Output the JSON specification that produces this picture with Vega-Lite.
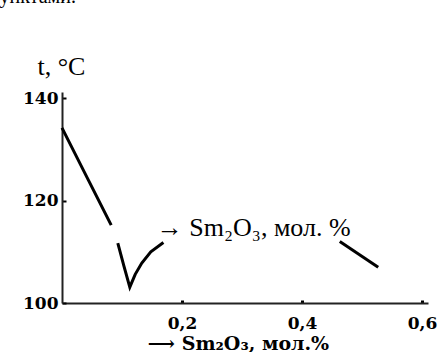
{
  "$schema": "https://vega.github.io/schema/vega-lite/v6.json",
  "width": 366,
  "height": 211,
  "autosize": "none",
  "padding": {"left": 62, "top": 92, "right": 10, "bottom": 49},
  "background": "white",
  "title": {
    "text": "ми пунктами.",
    "anchor": "start",
    "orient": "top",
    "offset": 30,
    "dx": -62,
    "font": "Liberation Serif",
    "fontSize": 20,
    "fontWeight": "normal",
    "color": "#000",
    "baseline": "alphabetic"
  },
  "config": {
    "view": {"stroke": null},
    "axis": {"grid": false}
  },
  "layer": [
    {
      "data": {
        "values": [
          {"x": 0.0, "t": 134.2, "seg": 1},
          {"x": 0.044, "t": 124.0, "seg": 1},
          {"x": 0.082, "t": 115.2, "seg": 1},
          {"x": 0.093, "t": 111.7, "seg": 2},
          {"x": 0.103, "t": 107.3, "seg": 2},
          {"x": 0.113, "t": 103.1, "seg": 2},
          {"x": 0.122, "t": 105.6, "seg": 2},
          {"x": 0.133, "t": 107.8, "seg": 2},
          {"x": 0.148, "t": 110.0, "seg": 2},
          {"x": 0.169, "t": 111.8, "seg": 2},
          {"x": 0.463, "t": 112.0, "seg": 3},
          {"x": 0.527, "t": 107.0, "seg": 3}
        ]
      },
      "mark": {"type": "line", "color": "black", "strokeWidth": 3},
      "encoding": {
        "x": {
          "field": "x",
          "type": "quantitative",
          "scale": {"domain": [0, 0.61], "nice": false, "zero": false},
          "axis": {
            "values": [0.2, 0.4, 0.6],
            "labelExpr": "replace(format(datum.value, '.1f'), '.', ',')",
            "labelFont": "DejaVu Serif",
            "labelFontWeight": "bold",
            "labelFontSize": 17,
            "labelColor": "#000",
            "labelPadding": 15,
            "tickSize": -3,
            "tickWidth": 3,
            "tickColor": "#000",
            "domainColor": "#222",
            "domainWidth": 2,
            "title": "⟶ Sm₂O₃, мол.%",
            "titleFont": "DejaVu Serif",
            "titleFontWeight": "bold",
            "titleFontSize": 19,
            "titleColor": "#000",
            "titleAlign": "center",
            "titleBaseline": "alphabetic",
            "titleX": 176,
            "titleY": 46
          }
        },
        "y": {
          "field": "t",
          "type": "quantitative",
          "scale": {"domain": [100, 141.2], "nice": false, "zero": false},
          "axis": {
            "values": [100, 120, 140],
            "labelFont": "DejaVu Serif",
            "labelFontWeight": "bold",
            "labelFontSize": 17,
            "labelColor": "#000",
            "labelPadding": 8,
            "tickSize": -4,
            "tickWidth": 2,
            "tickColor": "#000",
            "domainColor": "#222",
            "domainWidth": 2,
            "title": "t, °C",
            "titleFont": "Liberation Serif",
            "titleFontWeight": "normal",
            "titleFontSize": 26,
            "titleColor": "#000",
            "titleAngle": 0,
            "titleAlign": "left",
            "titleBaseline": "alphabetic",
            "titleX": -25,
            "titleY": -18
          }
        },
        "detail": {"field": "seg", "type": "nominal"}
      }
    },
    {
      "data": {"values": [{"x": 0.158, "t": 114.6, "label": "→ Sm₂O₃, мол. %"}]},
      "mark": {"type": "text", "align": "left", "baseline": "middle", "font": "Liberation Serif", "fontSize": 26, "color": "#000"},
      "encoding": {
        "x": {"field": "x", "type": "quantitative"},
        "y": {"field": "t", "type": "quantitative"},
        "text": {"field": "label"}
      }
    }
  ]
}
